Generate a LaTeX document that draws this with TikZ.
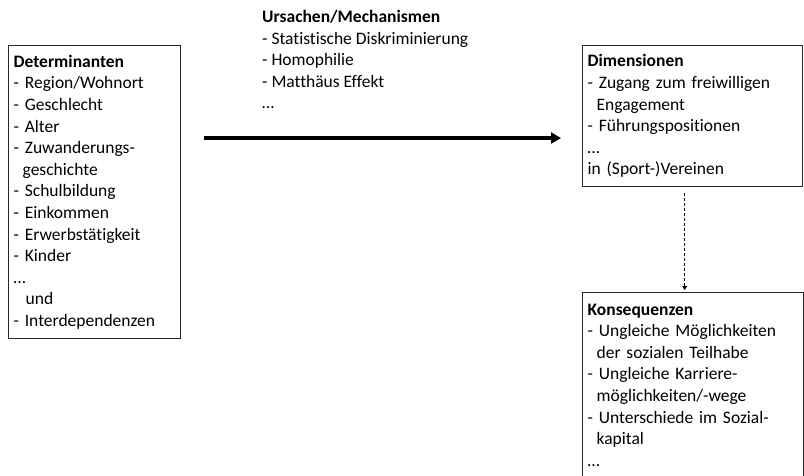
\documentclass[tikz,border=0pt]{standalone}
\usepackage{fontspec}
\setmainfont{Carlito}[Ligatures=NoCommon]
\usetikzlibrary{arrows.meta}
\tikzstyle{textbox} = [draw=black!85, line width=1.3pt, anchor=north west, align=left, inner xsep=5pt, inner ysep=6pt, font=\fontsize{17.5}{21.6}\selectfont]
\tikzstyle{arrow} = [line width=3.5pt, -{Triangle[length=10pt,width=11pt]}]
\tikzstyle{dasharrow} = [line width=1pt, dash pattern=on 3pt off 2pt, -{Triangle[length=4pt,width=5pt]}]
\newcommand{\contind}{\hspace*{9pt}}

\begin{document}
\begin{tikzpicture}[x=1pt,y=-1pt]
\clip (0,0) rectangle (804,475);

\node[textbox, text width=162pt, minimum height=293pt] (det) at (8,45)
  {\textbf{Determinanten}\\
   - Region/Wohnort\\
   - Geschlecht\\
   - Alter\\
   - Zuwanderungs-\\
   \contind geschichte\\
   - Schulbildung\\
   - Einkommen\\
   - Erwerbstätigkeit\\
   - Kinder\\
   \dots\\
   \hspace*{12pt}und\\
   - Interdependenzen};

\node[anchor=north west, align=left, inner sep=0pt, font=\fontsize{17.5}{21.6}\selectfont] (ursachen) at (262,10)
  {\textbf{Ursachen/Mechanismen}\\
   - Statistische Diskriminierung\\
   - Homophilie\\
   - Matthäus Effekt\\
   \dots};

\node[textbox, text width=210pt, minimum height=141pt] (dim) at (582,45)
  {\textbf{Dimensionen}\\
   - Zugang zum freiwilligen\\
   \contind Engagement\\
   - Führungspositionen\\
   \dots\\
   in (Sport-)Vereinen};

\node[textbox, text width=211pt, minimum height=185pt] (kons) at (582,292)
  {\textbf{Konsequenzen}\\
   - Ungleiche Möglichkeiten\\
   \contind der sozialen Teilhabe\\
   - Ungleiche Karriere-\\
   \contind möglichkeiten/-wege\\
   - Unterschiede im Sozial-\\
   \contind kapital\\
   \dots};

% connectors
\coordinate (arrowy) at (0,138);
\draw[arrow, shorten <=23pt, shorten >=21pt] (det.east |- arrowy) -- (dim.west |- arrowy);
\draw[dasharrow, shorten <=6pt, shorten >=2pt] ([xshift=-8pt]dim.south) -- ([xshift=-8pt]dim.south |- kons.north);
\end{tikzpicture}
\end{document}
